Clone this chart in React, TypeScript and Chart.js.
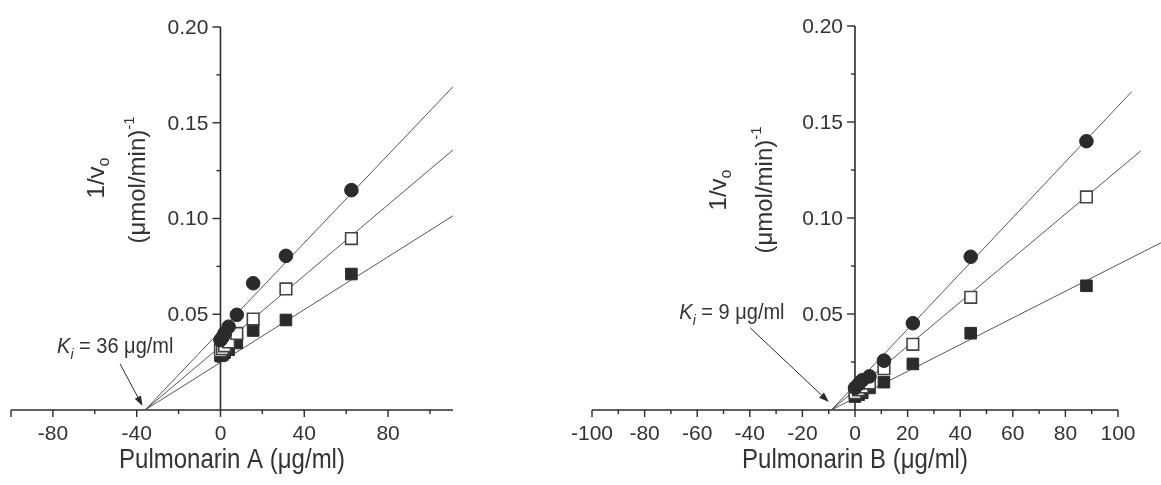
import React, { useEffect, useRef } from 'react';
import { Chart, registerables } from 'chart.js';

Chart.register(...registerables);

// ---------- DATA ----------
// Pulmonarin A (left panel)
const concA = [0, 0.98, 1.95, 3.9, 7.8, 15.6, 31.25, 62.5];
const circleA = [0.0365, 0.038, 0.040, 0.0435, 0.0497, 0.0662, 0.0805, 0.1148];
const openA = [0.031, 0.032, 0.0335, 0.0355, 0.040, 0.0475, 0.0632, 0.0895];
const filledA = [0.0283, 0.029, 0.030, 0.0315, 0.035, 0.0415, 0.047, 0.071];
const fitXA = [-36, 111];
const fitCircleA = [0, 0.1688];
const fitOpenA = [0, 0.1358];
const fitFilledA = [0, 0.1014];
const kiA = 36;

// Pulmonarin B (right panel)
const concB = [0, 1.375, 2.75, 5.5, 11, 22, 44, 88];
const circleB = [0.0115, 0.0135, 0.0155, 0.0175, 0.0257, 0.0452, 0.0798, 0.140];
const openB = [0.009, 0.0105, 0.012, 0.014, 0.0215, 0.0342, 0.0587, 0.111];
const filledB = [0.007, 0.008, 0.009, 0.0115, 0.0145, 0.024, 0.040, 0.0647];
const fitCircleXB = [-9, 105.2];
const fitCircleB = [0, 0.1658];
const fitOpenXB = [-9, 108.7];
const fitOpenB = [0, 0.135];
const fitFilledXB = [-9, 130];
const fitFilledB = [0, 0.0966];
const kiB = 9;

// Tick labels
const yTickLabels = ['0.05', '0.10', '0.15', '0.20'];
const xTickLabelsA = ['-80', '-40', '0', '40', '80'];
const xTickLabelsB = ['-100', '-80', '-60', '-40', '-20', '0', '20', '40', '60', '80', '100'];

// ---------- STYLE ----------
const FONT = "'Liberation Sans', Arial, Helvetica, sans-serif";
const INK = '#2b2b2b';
const TEXT = '#333333';
const LINE = '#555555';

const pts = (xs: number[], ys: number[]) => xs.map((x, i) => ({ x, y: ys[i] }));

type Part = { text: string; size: number; italic?: boolean; dy?: number };

function richWidth(ctx: CanvasRenderingContext2D, parts: Part[]) {
  let w = 0;
  for (const p of parts) {
    ctx.font = `${p.italic ? 'italic ' : ''}${p.size}px ${FONT}`;
    w += ctx.measureText(p.text).width;
  }
  return w;
}

function drawRich(ctx: CanvasRenderingContext2D, parts: Part[], x: number, y: number, align: 'left' | 'center') {
  const w = richWidth(ctx, parts);
  let cx = align === 'center' ? x - w / 2 : x;
  ctx.textAlign = 'left';
  ctx.textBaseline = 'alphabetic';
  for (const p of parts) {
    ctx.font = `${p.italic ? 'italic ' : ''}${p.size}px ${FONT}`;
    ctx.fillText(p.text, cx, y + (p.dy || 0));
    cx += ctx.measureText(p.text).width;
  }
}

type Spec = {
  pad: { left: number; right: number; top: number };
  xMin: number;
  xMax: number;
  xStep: number;
  xLabels: string[];
  xMajor: (v: number) => boolean;
  xTitle: string;
  yTitle1: { dx: number; cy: number };
  yTitle2: { dx: number; cy: number };
  ki: number;
  kiText: { dx: number; dy: number };
  arrowStart: { dx: number; dy: number };
  arrowTip: { dx: number; dy: number };
  datasets: any[];
};

const yLabel = (v: number) => {
  const s = Number(v).toFixed(2);
  return yTickLabels.includes(s) ? s : '';
};

function makePlugin(spec: Spec) {
  return {
    id: 'deco',
    beforeDatasetsDraw(chart: any) {
      const { ctx, chartArea } = chart;
      const xs = chart.scales.x;
      const ys = chart.scales.y;
      const x0 = xs.getPixelForValue(0);
      const yb = ys.getPixelForValue(0);
      ctx.save();
      ctx.strokeStyle = INK;
      ctx.lineWidth = 1.6;
      // x axis
      ctx.beginPath();
      ctx.moveTo(chartArea.left, yb);
      ctx.lineTo(chartArea.right, yb);
      ctx.stroke();
      // y axis
      ctx.beginPath();
      ctx.moveTo(x0, yb);
      ctx.lineTo(x0, ys.getPixelForValue(ys.max));
      ctx.stroke();
      // x ticks
      ctx.lineWidth = 1.4;
      for (const t of xs.ticks) {
        const px = xs.getPixelForValue(t.value);
        const len = spec.xMajor(t.value) ? 7 : 4;
        ctx.beginPath();
        ctx.moveTo(px, yb);
        ctx.lineTo(px, yb + len);
        ctx.stroke();
      }
      // y ticks + labels
      ctx.fillStyle = TEXT;
      ctx.font = `21px ${FONT}`;
      ctx.textAlign = 'right';
      ctx.textBaseline = 'middle';
      for (const t of ys.ticks) {
        if (Math.abs(t.value) < 1e-9) continue;
        const py = ys.getPixelForValue(t.value);
        const r = t.value / 0.05;
        const major = Math.abs(r - Math.round(r)) < 1e-6;
        ctx.beginPath();
        ctx.moveTo(x0, py);
        ctx.lineTo(x0 - (major ? 8 : 4), py);
        ctx.stroke();
        const lab = yLabel(t.value);
        if (lab) ctx.fillText(lab, x0 - 12, py + 1);
      }
      ctx.restore();
    },
    afterDraw(chart: any) {
      const { ctx, chartArea } = chart;
      const xs = chart.scales.x;
      const ys = chart.scales.y;
      const x0 = xs.getPixelForValue(0);
      ctx.save();
      ctx.fillStyle = TEXT;
      // x title (slightly tall, like the reference)
      ctx.save();
      ctx.translate((chartArea.left + chartArea.right) / 2, 468);
      ctx.scale(1, 1.17);
      drawRich(ctx, [{ text: spec.xTitle, size: 24 }], 0, 0, 'center');
      ctx.restore();
      // y title line 1
      ctx.save();
      ctx.translate(x0 + spec.yTitle1.dx, spec.yTitle1.cy);
      ctx.rotate(-Math.PI / 2);
      drawRich(ctx, [
        { text: '1/v', size: 24 },
        { text: 'o', size: 16, dy: 5 },
      ], 0, 0, 'center');
      ctx.restore();
      // y title line 2
      ctx.save();
      ctx.translate(x0 + spec.yTitle2.dx, spec.yTitle2.cy);
      ctx.rotate(-Math.PI / 2);
      drawRich(ctx, [
        { text: '(\u03BCmol/min)', size: 24 },
        { text: '-1', size: 15, dy: -11 },
      ], 0, 0, 'center');
      ctx.restore();
      // Ki annotation
      const ix = xs.getPixelForValue(-spec.ki);
      const iy = ys.getPixelForValue(0);
      ctx.save();
      ctx.translate(ix + spec.kiText.dx, iy + spec.kiText.dy);
      ctx.scale(1, 1.1);
      drawRich(ctx, [
        { text: 'K', size: 20, italic: true },
        { text: 'i', size: 14, italic: true, dy: 5 },
        { text: ` = ${spec.ki} \u03BCg/ml`, size: 20 },
      ], 0, 0, 'left');
      ctx.restore();
      // arrow
      const sx = ix + spec.arrowStart.dx, sy = iy + spec.arrowStart.dy;
      const tx = ix + spec.arrowTip.dx, ty = iy + spec.arrowTip.dy;
      const ang = Math.atan2(ty - sy, tx - sx);
      const hl = 10, hw = 3.5;
      ctx.strokeStyle = INK;
      ctx.lineWidth = 1;
      ctx.beginPath();
      ctx.moveTo(sx, sy);
      ctx.lineTo(tx - hl * Math.cos(ang), ty - hl * Math.sin(ang));
      ctx.stroke();
      ctx.fillStyle = INK;
      ctx.beginPath();
      ctx.moveTo(tx, ty);
      ctx.lineTo(tx - hl * Math.cos(ang) + hw * Math.sin(ang), ty - hl * Math.sin(ang) - hw * Math.cos(ang));
      ctx.lineTo(tx - hl * Math.cos(ang) - hw * Math.sin(ang), ty - hl * Math.sin(ang) + hw * Math.cos(ang));
      ctx.closePath();
      ctx.fill();
      ctx.restore();
    },
  };
}

function markerSets(xs: number[], circ: number[], open: number[], filled: number[]) {
  return [
    {
      type: 'scatter',
      data: pts(xs, circ),
      pointStyle: 'circle',
      pointRadius: 6.8,
      pointBackgroundColor: INK,
      pointBorderColor: INK,
      pointBorderWidth: 1,
      clip: false,
    },
    {
      type: 'scatter',
      data: pts(xs, open),
      pointStyle: 'rect',
      pointRadius: 8.2,
      pointBackgroundColor: '#ffffff',
      pointBorderColor: '#444444',
      pointBorderWidth: 1.6,
      clip: false,
    },
    {
      type: 'scatter',
      data: pts(xs, filled),
      pointStyle: 'rect',
      pointRadius: 8.2,
      pointBackgroundColor: INK,
      pointBorderColor: INK,
      pointBorderWidth: 1,
      clip: false,
    },
  ];
}

function fitSet(xs: number[], ys: number[]) {
  return {
    type: 'line',
    data: pts(xs, ys),
    borderColor: LINE,
    borderWidth: 1,
    pointRadius: 0,
    fill: false,
    tension: 0,
    clip: false,
  };
}

function makeConfig(spec: Spec): any {
  return {
    type: 'scatter',
    data: { datasets: spec.datasets },
    options: {
      animation: false,
      responsive: false,
      maintainAspectRatio: false,
      devicePixelRatio: 1,
      events: [],
      layout: { padding: { left: spec.pad.left, right: spec.pad.right, top: spec.pad.top, bottom: 0 } },
      plugins: { legend: { display: false }, tooltip: { enabled: false }, title: { display: false } },
      scales: {
        x: {
          type: 'linear',
          position: 'bottom',
          min: spec.xMin,
          max: spec.xMax,
          grid: { display: false },
          border: { display: false },
          afterFit: (s: any) => { s.height = 75; },
          ticks: {
            stepSize: spec.xStep,
            includeBounds: false,
            autoSkip: false,
            maxRotation: 0,
            padding: 4,
            color: TEXT,
            font: { family: FONT, size: 21 },
            callback: (v: number) => {
              const s = String(Math.round(v));
              return spec.xLabels.includes(s) ? s : '';
            },
          },
        },
        y: {
          type: 'linear',
          position: { x: 0 },
          min: 0,
          max: 0.2,
          grid: { display: false },
          border: { display: false },
          ticks: {
            display: false,
            stepSize: 0.025,
            autoSkip: false,
            callback: yLabel,
          },
        },
      },
    },
    plugins: [makePlugin(spec)],
  };
}

const specA: Spec = {
  pad: { left: 11, right: 708, top: 27 },
  xMin: -100,
  xMax: 111,
  xStep: 20,
  xLabels: xTickLabelsA,
  xMajor: (v) => Math.round(v) % 40 === 0 || Math.round(v) === -100,
  xTitle: 'Pulmonarin A (\u03BCg/ml)',
  yTitle1: { dx: -116, cy: 178 },
  yTitle2: { dx: -75, cy: 180 },
  ki: kiA,
  kiText: { dx: -88, dy: -57 },
  arrowStart: { dx: -25, dy: -46 },
  arrowTip: { dx: -2.5, dy: -4 },
  datasets: [
    ...markerSets(concA, circleA, openA, filledA),
    fitSet(fitXA, fitCircleA),
    fitSet(fitXA, fitOpenA),
    fitSet(fitXA, fitFilledA),
  ],
};

const specB: Spec = {
  pad: { left: 592, right: 43, top: 26 },
  xMin: -100,
  xMax: 100,
  xStep: 10,
  xLabels: xTickLabelsB,
  xMajor: (v) => Math.round(v) % 20 === 0,
  xTitle: 'Pulmonarin B (\u03BCg/ml)',
  yTitle1: { dx: -129, cy: 190 },
  yTitle2: { dx: -83, cy: 190 },
  ki: kiB,
  kiText: { dx: -152, dy: -91 },
  arrowStart: { dx: -81, dy: -82 },
  arrowTip: { dx: -2.5, dy: -8 },
  datasets: [
    ...markerSets(concB, circleB, openB, filledB),
    fitSet(fitCircleXB, fitCircleB),
    fitSet(fitOpenXB, fitOpenB),
    fitSet(fitFilledXB, fitFilledB),
  ],
};

export default function App() {
  const refA = useRef<HTMLCanvasElement | null>(null);
  const refB = useRef<HTMLCanvasElement | null>(null);

  useEffect(() => {
    const a = new Chart(refA.current as HTMLCanvasElement, makeConfig(specA));
    const b = new Chart(refB.current as HTMLCanvasElement, makeConfig(specB));
    return () => {
      a.destroy();
      b.destroy();
    };
  }, []);

  const cs: React.CSSProperties = { position: 'absolute', left: 0, top: 0, width: 1161, height: 485 };
  return (
    <div style={{ position: 'fixed', left: 0, top: 0, width: 1161, height: 485, background: '#ffffff' }}>
      <canvas ref={refA} width={1161} height={485} style={cs} />
      <canvas ref={refB} width={1161} height={485} style={cs} />
    </div>
  );
}
